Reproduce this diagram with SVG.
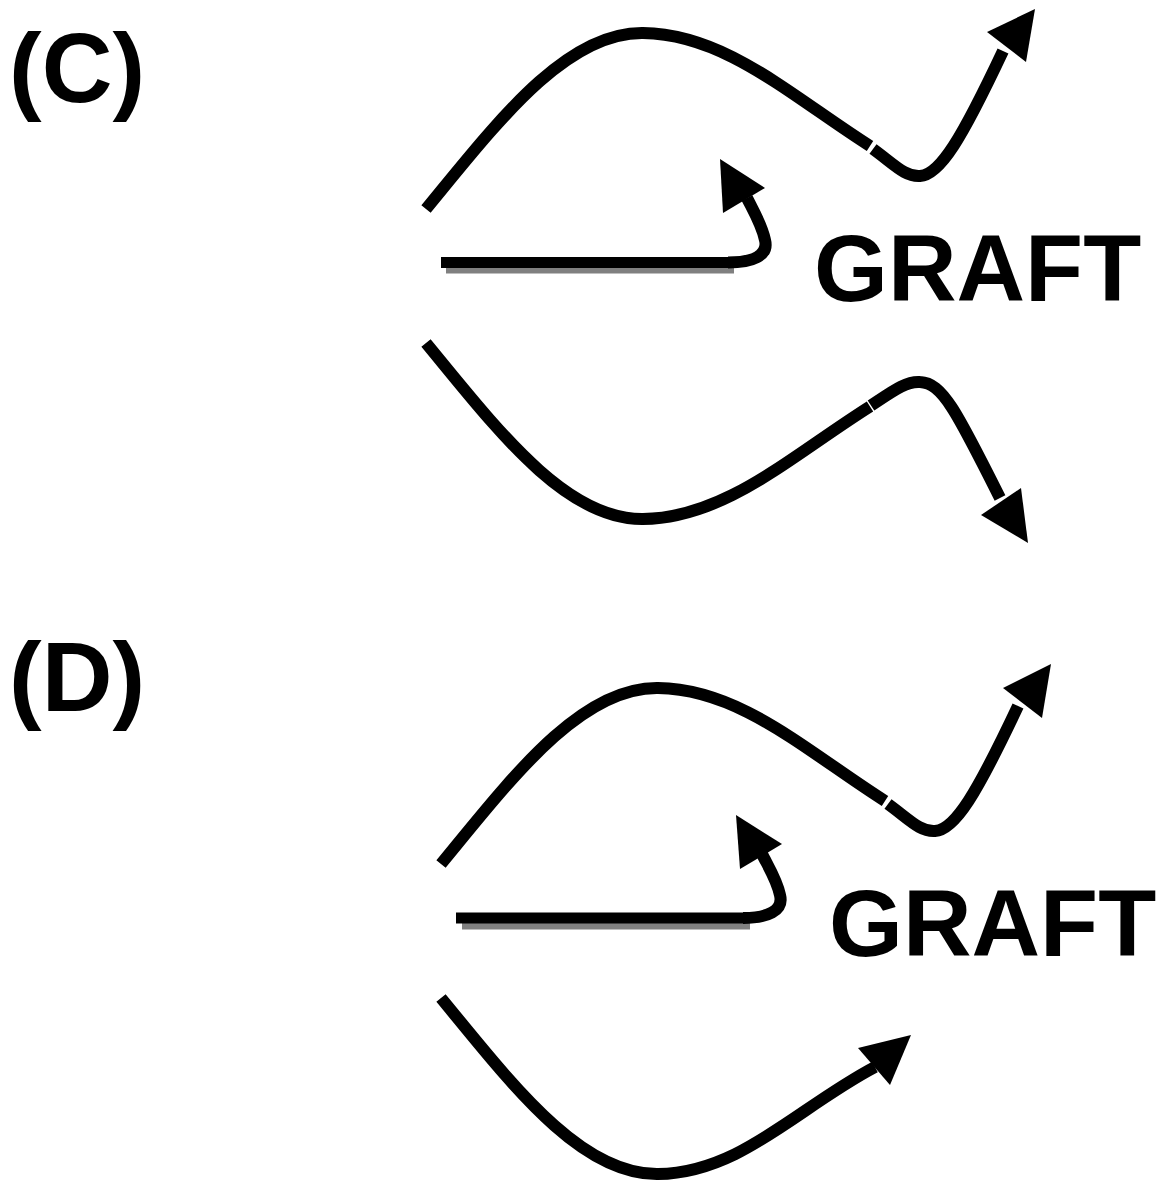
<svg xmlns="http://www.w3.org/2000/svg" width="1168" height="1181" viewBox="0 0 1168 1181">
<style>
.bg{fill:#ffffff}
.lbl{font-family:"Liberation Sans",Arial,sans-serif;font-weight:bold;font-size:95px;fill:#000}
.plbl{font-family:"Liberation Sans",Arial,sans-serif;font-weight:bold;font-size:98px;fill:#000}
.ln{fill:none;stroke:#000;stroke-width:12;stroke-linecap:butt;stroke-linejoin:round}
.bar{fill:none;stroke:#000;stroke-width:11;stroke-linecap:butt}
.shadow{fill:none;stroke:#808080;stroke-width:11;stroke-linecap:butt}
.head{fill:#000;stroke:none}
</style>
<rect class="bg" x="0" y="0" width="1168" height="1181"/>
<g id="label-c"><text class="plbl" x="9" y="102">(C)</text></g>
<g id="label-d"><text class="plbl" x="9" y="711">(D)</text></g>
<g id="graft-c"><text class="lbl" x="814" y="301">GRAFT</text></g>
<g id="graft-d"><text class="lbl" x="829" y="956">GRAFT</text></g>
<g id="connectors">
  <g id="panel-c">
    <path class="ln" d="M426,209 C496,124 565,32 643,33 C725,34 790,95 870,146"/>
    <path class="ln" d="M873,149 C895,165 905,177 920,176 C940,175 962,138 1003,51"/>
    <polygon class="head" points="1035,9 987,32 1026,62"/>
    <line class="shadow" x1="446" y1="268" x2="734" y2="268"/>
    <line class="bar" x1="441" y1="262.5" x2="730" y2="262.5"/>
    <path class="ln" d="M728,262.5 C752,262.5 769,256 765,240 C762,225 753,210 747,198"/>
    <polygon class="head" points="720,159 723,213 765,188"/>
    <path class="ln" d="M426,343 C496,428 565,520 643,519 C725,518 790,457 870,406.5"/>
    <path class="ln" d="M871,405.5 C893,391 906,381 920,382 C942,383 956,410 1000,498"/>
    <polygon class="head" points="1028,543 981,515 1021,488"/>
  </g>
  <g id="panel-d">
    <path class="ln" d="M441,864 C511,779 580,687 658,688 C740,689 805,750 885,801"/>
    <path class="ln" d="M888,804 C910,820 920,832 935,831 C955,830 977,793 1018,706"/>
    <polygon class="head" points="1051,664 1003,688 1042,718"/>
    <line class="shadow" x1="462" y1="924" x2="750" y2="924"/>
    <line class="bar" x1="456" y1="918" x2="745" y2="918"/>
    <path class="ln" d="M743,918 C767,918 784,911 780,895 C777,880 768,866 762,854"/>
    <polygon class="head" points="736,815 740,869 782,844"/>
    <path class="ln" d="M441,998 C511,1083 580,1175 658,1174 C740,1173 797,1108 875,1067"/>
    <polygon class="head" points="911,1035 858,1048 890,1085"/>
  </g>
</g>
</svg>
